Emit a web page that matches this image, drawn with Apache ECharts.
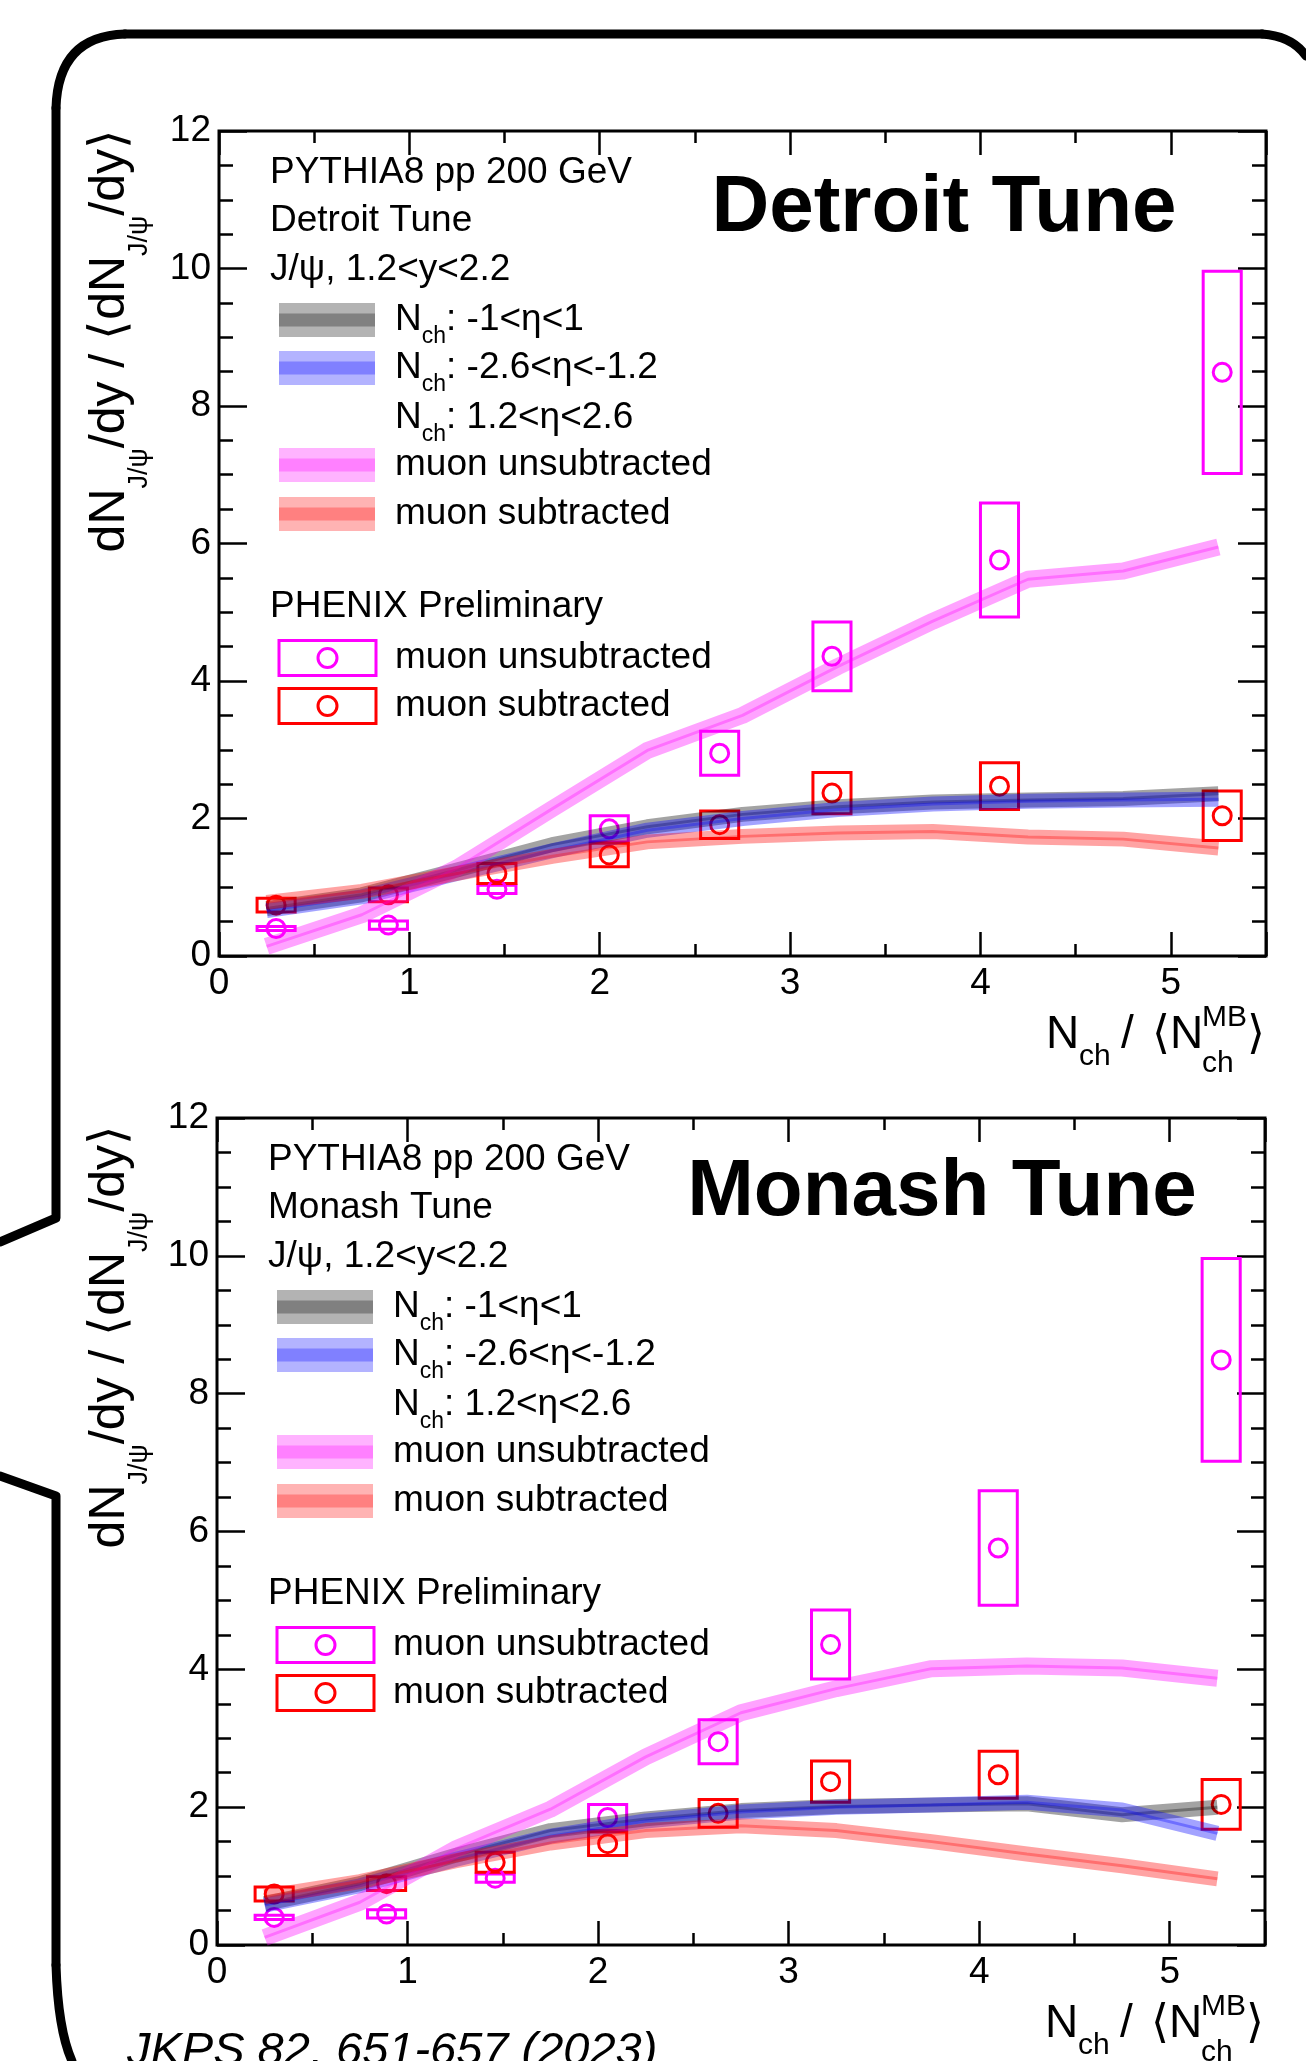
<!DOCTYPE html>
<html>
<head>
<meta charset="utf-8">
<script src="https://cdn.jsdelivr.net/npm/echarts@6.0.0/dist/echarts.min.js"></script>
<style>
html, body { margin: 0; padding: 0; background: #fff; }
#main { width: 1306px; height: 2061px; }
</style>
</head>
<body>
<div id="main"></div>
<script>
var myChart = echarts.init(document.getElementById('main'));
var FONT = '"Liberation Sans", Arial, Helvetica, sans-serif';

// PHENIX preliminary (same points in both panels)
var dataX = [0.30, 0.89, 1.46, 2.05, 2.63, 3.22, 4.10, 5.27];
var muonSub = [0.74, 0.89, 1.20, 1.47, 1.91, 2.37, 2.47, 2.04];
var muonSubSys = [0.10, 0.10, 0.145, 0.17, 0.20, 0.30, 0.34, 0.36];
var muonUnsub = [0.40, 0.45, 0.97, 1.85, 2.95, 4.36, 5.76, 8.49];
var muonUnsubSys = [0.03, 0.06, 0.06, 0.19, 0.32, 0.50, 0.83, 1.47];
var boxHalfWidth = 0.1;

// PYTHIA8 curves at bin centres
var pythiaX = [0.25, 0.75, 1.25, 1.75, 2.25, 2.75, 3.25, 3.75, 4.25, 4.75, 5.25];
var detroitMid = [0.69, 0.89, 1.25, 1.62, 1.88, 2.06, 2.17, 2.24, 2.27, 2.29, 2.36];
var detroitBwd = [0.66, 0.86, 1.20, 1.53, 1.83, 2.00, 2.13, 2.21, 2.25, 2.27, 2.28];
var detroitUnsub = [0.14, 0.60, 1.28, 2.14, 2.99, 3.50, 4.21, 4.87, 5.48, 5.60, 5.95];
var detroitSub = [0.78, 0.94, 1.20, 1.45, 1.66, 1.74, 1.79, 1.81, 1.73, 1.70, 1.57];
var monashMid = [0.60, 0.89, 1.30, 1.66, 1.83, 1.95, 2.01, 2.03, 2.05, 1.89, 2.00];
var monashBwd = [0.58, 0.86, 1.24, 1.58, 1.80, 1.93, 2.00, 2.03, 2.07, 1.96, 1.62];
var monashUnsub = [0.11, 0.62, 1.39, 1.97, 2.73, 3.37, 3.72, 4.01, 4.05, 4.02, 3.87];
var monashSub = [0.70, 0.92, 1.22, 1.48, 1.66, 1.73, 1.66, 1.50, 1.32, 1.15, 0.96];

var legendLabels = ['-1<η<1', '-2.6<η<-1.2', '1.2<η<2.6', 'muon unsubtracted', 'muon subtracted'];

var panels = [
    { tune: 'Detroit Tune', left: 219, top: 131, width: 1047, height: 825, yTitleTop: 129, tuneDy: 78,
      mid: detroitMid, bwd: detroitBwd, unsub: detroitUnsub, sub: detroitSub },
    { tune: 'Monash Tune', left: 217, top: 1118, width: 1048, height: 827, yTitleTop: 1125, tuneDy: 75,
      mid: monashMid, bwd: monashBwd, unsub: monashUnsub, sub: monashSub }
];

var GRAY = '0,0,0', BLUE = '0,0,255', PINK = '255,0,255', RED = '255,0,0';

function xAxes(gi, pos, showLabel) {
    var tickStyle = { color: '#000', width: 2.5 };
    return [
        { gridIndex: gi, type: 'value', position: pos, min: 0, max: 5.5, interval: 1,
          axisLine: { show: false, onZero: false }, splitLine: { show: false },
          axisTick: { show: true, inside: true, length: 24, lineStyle: tickStyle },
          axisLabel: { show: showLabel, margin: 9, fontSize: 37, color: '#000', fontFamily: FONT,
              formatter: function (v) { return v % 1 === 0 ? String(v) : ''; } } },
        { gridIndex: gi, type: 'value', position: pos, min: 0, max: 5.5, interval: 0.5,
          axisLine: { show: false, onZero: false }, splitLine: { show: false }, axisLabel: { show: false },
          axisTick: { show: true, inside: true, length: 12, lineStyle: tickStyle } }
    ];
}

function yAxis(gi, pos, showLabel) {
    var tickStyle = { color: '#000', width: 2.5 };
    return { gridIndex: gi, type: 'value', position: pos, min: 0, max: 12, interval: 2,
        axisLine: { show: false, onZero: false }, splitLine: { show: false },
        axisTick: { show: true, inside: true, length: 28, lineStyle: tickStyle },
        minorTick: { show: true, splitNumber: 4, length: 14, lineStyle: tickStyle },
        axisLabel: { show: showLabel, margin: 8, fontSize: 37, color: '#000', fontFamily: FONT } };
}

function boxSeries(gi, vals, sys, color) {
    return {
        type: 'custom', xAxisIndex: gi * 4, yAxisIndex: gi * 2, silent: true,
        data: dataX.map(function (x, i) { return [x, vals[i], sys[i]]; }),
        encode: { x: 0, y: 1 },
        renderItem: function (params, api) {
            var x = api.value(0), y = api.value(1), e = api.value(2);
            var a = api.coord([x - boxHalfWidth, y + e]);
            var b = api.coord([x + boxHalfWidth, y - e]);
            return { type: 'rect',
                shape: { x: a[0], y: a[1], width: b[0] - a[0], height: b[1] - a[1] },
                style: { fill: 'none', stroke: color, lineWidth: 3 } };
        }
    };
}

function pointSeries(gi, vals, color) {
    return {
        type: 'scatter', xAxisIndex: gi * 4, yAxisIndex: gi * 2, silent: true,
        symbol: 'circle', symbolSize: 18,
        data: dataX.map(function (x, i) { return [x, vals[i]]; }),
        itemStyle: { color: 'rgba(0,0,0,0)', borderColor: color, borderWidth: 3, opacity: 1 }
    };
}

function bandSeries(gi, vals, rgb, w) {
    var data = pythiaX.map(function (x, i) { return [x, vals[i]]; });
    return [
        { type: 'line', xAxisIndex: gi * 4, yAxisIndex: gi * 2, silent: true, data: data,
          symbol: 'none', lineStyle: { width: w, color: 'rgba(' + rgb + ',0.36)', cap: 'butt', join: 'round' } },
        { type: 'line', xAxisIndex: gi * 4, yAxisIndex: gi * 2, silent: true, data: data,
          symbol: 'none', lineStyle: { width: 3, color: 'rgba(' + rgb + ',0.32)' } }
    ];
}

function text(x, y, str, size, o) {
    o = o || {};
    return { type: 'text', x: x, y: y, rotation: o.rotation || 0, z: 100, silent: true,
        style: { text: str, fill: '#000', fontSize: size, fontFamily: FONT,
            fontWeight: o.weight || 'normal', fontStyle: o.italic ? 'italic' : 'normal',
            align: o.align || 'left', verticalAlign: 'middle', rich: o.rich } };
}

var legendRich = {
    m: { fontSize: 37, fontFamily: FONT, fill: '#000', lineHeight: 56, verticalAlign: 'middle' },
    s: { fontSize: 23, fontFamily: FONT, fill: '#000', lineHeight: 23, verticalAlign: 'bottom' }
};
var yTitleRich = {
    m: { fontSize: 50, fontFamily: FONT, fill: '#000', lineHeight: 86, verticalAlign: 'middle' },
    s: { fontSize: 27, fontFamily: FONT, fill: '#000', lineHeight: 27, verticalAlign: 'bottom' }
};

var swatches = [
    ['#b3b3b3', '#808080'], ['#b3b3ff', '#8080ff'], null, ['#ffb3ff', '#ff80ff'], ['#ffb3b3', '#ff8080']
];

var grids = [], xAxisList = [], yAxisList = [], series = [], graphics = [];

panels.forEach(function (p, gi) {
    grids.push({ left: p.left, top: p.top, width: p.width, height: p.height,
        show: true, borderColor: '#000', borderWidth: 3, backgroundColor: 'rgba(0,0,0,0)', containLabel: false });
    xAxisList = xAxisList.concat(xAxes(gi, 'bottom', true), xAxes(gi, 'top', false));
    yAxisList.push(yAxis(gi, 'left', true), yAxis(gi, 'right', false));

    series.push(boxSeries(gi, muonUnsub, muonUnsubSys, '#ff00ff'));
    series.push(boxSeries(gi, muonSub, muonSubSys, '#ff0000'));
    series.push(pointSeries(gi, muonUnsub, '#ff00ff'));
    series.push(pointSeries(gi, muonSub, '#ff0000'));
    series = series.concat(bandSeries(gi, p.mid, GRAY, 15), bandSeries(gi, p.bwd, BLUE, 15),
        bandSeries(gi, p.unsub, PINK, 17), bandSeries(gi, p.sub, RED, 15));

    var L = p.left, T = p.top, R = p.left + p.width, B = p.top + p.height;

    // legend block
    graphics.push(text(L + 51, T + 42, 'PYTHIA8 pp 200 GeV', 37));
    graphics.push(text(L + 51, T + 90, p.tune, 37));
    graphics.push(text(L + 51, T + 139, 'J/ψ, 1.2<y<2.2', 37));
    var rowY = [189, 237, 287, 334, 383];
    legendLabels.forEach(function (lab, i) {
        var y = T + rowY[i];
        var sw = swatches[i];
        if (sw) {
            graphics.push({ type: 'rect', x: L + 60, y: y - 17, z: 100, silent: true,
                shape: { width: 96, height: 34 }, style: { fill: sw[0] } });
            graphics.push({ type: 'rect', x: L + 60, y: y - 6.5, z: 100, silent: true,
                shape: { width: 96, height: 13 }, style: { fill: sw[1] } });
        }
        var str = i < 3 ? '{m|N}{s|ch}{m|: ' + lab + '}' : '{m|' + lab + '}';
        graphics.push(text(L + 176, y, str, 37, { rich: legendRich }));
    });
    graphics.push(text(L + 51, T + 476, 'PHENIX Preliminary', 37));
    [['#ff00ff', 'muon unsubtracted', 527], ['#ff0000', 'muon subtracted', 575]].forEach(function (e) {
        var y = T + e[2];
        graphics.push({ type: 'rect', x: L + 60, y: y - 17.5, z: 100, silent: true,
            shape: { width: 97, height: 35 }, style: { fill: 'none', stroke: e[0], lineWidth: 3 } });
        graphics.push({ type: 'circle', x: L + 108.5, y: y, z: 100, silent: true,
            shape: { cx: 0, cy: 0, r: 9.5 }, style: { fill: 'none', stroke: e[0], lineWidth: 3 } });
        graphics.push(text(L + 176, y, e[1], 37));
    });

    // big tune label
    graphics.push(text(L + 725, T + p.tuneDy, p.tune, 80, { weight: 'bold', align: 'center' }));

    // y title
    graphics.push(text(110, p.yTitleTop, '{m|dN}{s|J/ψ}{m|/dy / ⟨dN}{s|J/ψ}{m|/dy⟩}', 50,
        { rotation: Math.PI / 2, align: 'right', rich: yTitleRich }));

    // x title
    graphics.push(text(R - 220, B + 79, 'N', 46));
    graphics.push(text(R - 187, B + 101, 'ch', 30));
    graphics.push(text(R - 145, B + 79, '/', 46));
    graphics.push(text(R - 114, B + 79, '⟨', 46));
    graphics.push(text(R - 96, B + 79, 'N', 46));
    graphics.push(text(R - 64, B + 62, 'MB', 30));
    graphics.push(text(R - 64, B + 108, 'ch', 30));
    graphics.push(text(R - 19, B + 79, '⟩', 46));
});

// hand-drawn frame around the figure
var frameStyle = { fill: 'none', stroke: '#000', lineWidth: 9, lineJoin: 'round', lineCap: 'round' };
graphics.push({ type: 'bezierCurve', z: 100, silent: true,
    shape: { x1: 1306, y1: 56, cpx1: 1292, cpy1: 36, x2: 1262, y2: 34 }, style: frameStyle });
graphics.push({ type: 'polyline', z: 100, silent: true,
    shape: { points: [[1262, 34], [125, 34]] }, style: frameStyle });
graphics.push({ type: 'bezierCurve', z: 100, silent: true,
    shape: { x1: 125, y1: 34, cpx1: 58, cpy1: 36, x2: 56, y2: 108 }, style: frameStyle });
graphics.push({ type: 'polyline', z: 100, silent: true,
    shape: { points: [[56, 108], [56, 1218], [0, 1242]] }, style: frameStyle });
graphics.push({ type: 'polyline', z: 100, silent: true,
    shape: { points: [[0, 1476], [56, 1496], [56, 1965]] }, style: frameStyle });
graphics.push({ type: 'bezierCurve', z: 100, silent: true,
    shape: { x1: 56, y1: 1965, cpx1: 58, cpy1: 2030, x2: 72, y2: 2061 }, style: frameStyle });

graphics.push(text(127, 2052, 'JKPS 82, 651-657 (2023)', 47, { italic: true }));

var option = {
    animation: false,
    grid: grids,
    xAxis: xAxisList,
    yAxis: yAxisList,
    series: series,
    graphic: { elements: graphics }
};

myChart.setOption(option);
</script>
</body>
</html>
